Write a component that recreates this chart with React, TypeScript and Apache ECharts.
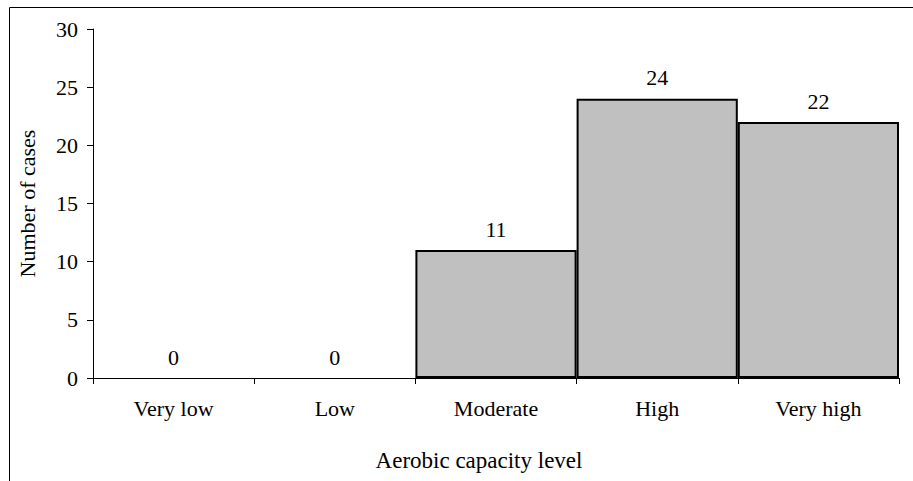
import React, { useEffect, useRef } from "react";
import * as echarts from "echarts";

const categories = ["Very low", "Low", "Moderate", "High", "Very high"];
const cases = [0, 0, 11, 24, 22];
const yTicks = { min: 0, max: 30, interval: 5 };

const FONT = "'Liberation Serif', 'Times New Roman', serif";
const FS = 22;

export default function App() {
  const ref = useRef<HTMLDivElement>(null);
  useEffect(() => {
    if (!ref.current) return;
    const chart = echarts.init(ref.current, null, { renderer: "svg" });
    chart.setOption({
      animation: false,
      backgroundColor: "#ffffff",
      textStyle: { fontFamily: FONT, color: "#000" },
      grid: { left: 93, right: 14, top: 29, bottom: 103, containLabel: false },
      graphic: [
        {
          type: "rect",
          shape: { x: 9.5, y: 7.5, width: 1000, height: 1000 },
          style: { fill: "none", stroke: "#000", lineWidth: 1 },
          silent: true,
        },
      ],
      xAxis: {
        type: "category",
        data: categories,
        boundaryGap: true,
        name: "Aerobic capacity level",
        nameLocation: "middle",
        nameGap: 71,
        nameTextStyle: { fontFamily: FONT, fontSize: 23, color: "#000", padding: [0, 34, 0, 0] },
        axisLine: { show: true, lineStyle: { color: "#000", width: 1 } },
        axisTick: { show: true, length: 6, alignWithLabel: false, lineStyle: { color: "#000" } },
        axisLabel: { fontFamily: FONT, fontSize: FS, color: "#000", margin: 19, interval: 0 },
        splitLine: { show: false },
      },
      yAxis: {
        type: "value",
        min: yTicks.min,
        max: yTicks.max,
        interval: yTicks.interval,
        name: "Number of cases",
        nameLocation: "middle",
        nameGap: 55,
        nameTextStyle: { fontFamily: FONT, fontSize: FS, color: "#000" },
        axisLine: { show: true, lineStyle: { color: "#000", width: 1 } },
        axisTick: { show: true, length: 6, lineStyle: { color: "#000" } },
        axisLabel: { fontFamily: FONT, fontSize: FS, color: "#000", margin: 15 },
        splitLine: { show: false },
      },
      series: [
        {
          type: "bar",
          barCategoryGap: "0%",
          data: cases.map((v) =>
            v === 0 ? { value: v, itemStyle: { borderWidth: 0, color: "transparent" } } : v
          ),
          itemStyle: { color: "#c0c0c0", borderColor: "#000", borderWidth: 2 },
          label: {
            show: true,
            position: "top",
            distance: 10,
            fontFamily: FONT,
            fontSize: FS,
            color: "#000",
          },
        },
      ],
    });
    return () => chart.dispose();
  }, []);
  return (
    <div
      ref={ref}
      style={{ position: "fixed", left: 0, top: 0, width: 913, height: 481 }}
    />
  );
}
